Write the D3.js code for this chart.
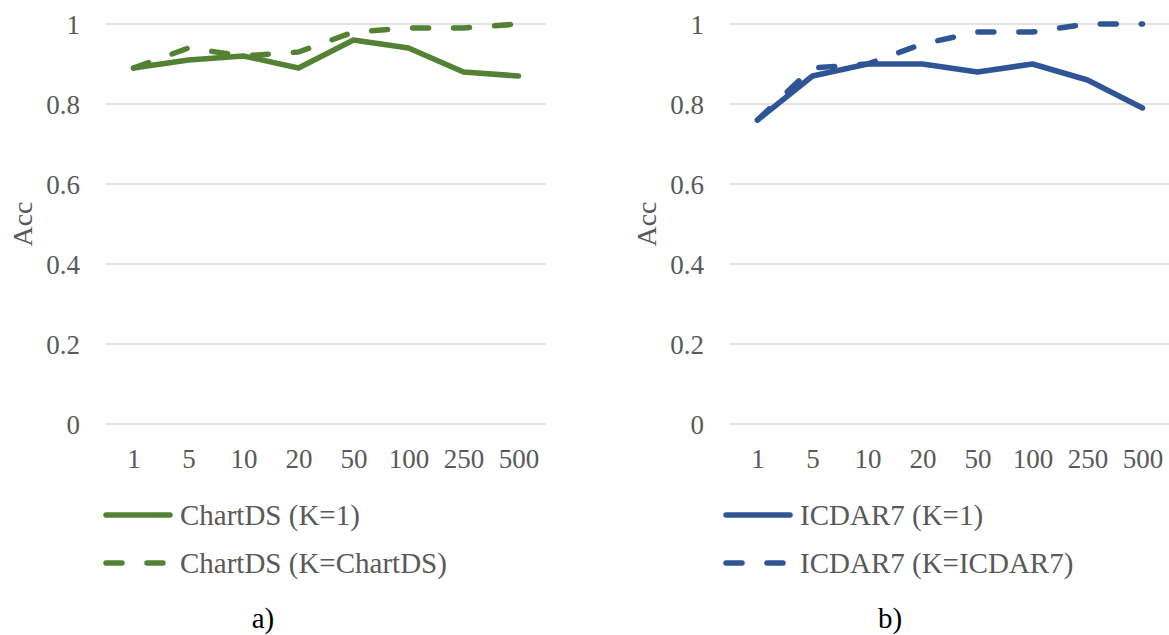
<!DOCTYPE html>
<html>
<head>
<meta charset="utf-8">
<script src="https://cdn.jsdelivr.net/npm/d3@7"></script>
<style>
  body { margin: 0; background: #fff; }
</style>
</head>
<body>
<svg id="chart" width="1169" height="635"></svg>
<script>
// values
const categories = ['1', '5', '10', '20', '50', '100', '250', '500'];
const yTicks = [0, 0.2, 0.4, 0.6, 0.8, 1];

const chartdsK1 = [0.89, 0.91, 0.92, 0.89, 0.96, 0.94, 0.88, 0.87];
const chartdsKAll = [0.89, 0.94, 0.92, 0.93, 0.98, 0.99, 0.99, 1.0];
const icdarK1 = [0.76, 0.87, 0.90, 0.90, 0.88, 0.90, 0.86, 0.79];
const icdarKAll = [0.76, 0.89, 0.90, 0.95, 0.98, 0.98, 1.0, 1.0];

const FONT = '"Liberation Serif"';

const panels = [
  { left: 106, right: 546, axisX: 80, titleX: 22, legX: 103, caption: 'a)', capX: 263, color: '#548235',
    series: [{ name: 'ChartDS (K=1)', values: chartdsK1, dash: null },
             { name: 'ChartDS (K=ChartDS)', values: chartdsKAll, dash: '16,25' }] },
  { left: 730, right: 1170, axisX: 704, titleX: 646, legX: 723, caption: 'b)', capX: 890, color: '#2F5597',
    series: [{ name: 'ICDAR7 (K=1)', values: icdarK1, dash: null },
             { name: 'ICDAR7 (K=ICDAR7)', values: icdarKAll, dash: '16,25' }] }
];

var svg = d3.select('#chart');
var y = d3.scaleLinear().domain([0, 1]).range([424, 24]);

panels.forEach(function(p) {
  var g = svg.append('g');
  var x = d3.scalePoint().domain(categories).range([p.left, p.right]).padding(0.5);

  // gridlines
  g.selectAll('.grid').data(yTicks).enter().append('line')
    .attr('x1', p.left).attr('x2', p.right)
    .attr('y1', d => y(d)).attr('y2', d => y(d))
    .attr('stroke', '#d9d9d9').attr('stroke-width', 1.5);

  // y axis labels
  var yAxis = d3.axisLeft(y).tickValues(yTicks).tickSize(0).tickPadding(0)
    .tickFormat(d => d3.format('~g')(d));
  var ya = g.append('g').attr('transform', `translate(${p.axisX},0)`).call(yAxis)
    .attr('font-family', FONT).attr('font-size', 27);
  ya.select('.domain').remove();
  ya.selectAll('text').attr('fill', '#595959').attr('font-family', FONT)
    .attr('font-size', 27).attr('dy', '0.35em');

  // x axis labels
  var xAxis = d3.axisBottom(x).tickSize(0).tickPadding(0);
  var xa = g.append('g').attr('transform', 'translate(0,468)').call(xAxis)
    .attr('font-family', FONT).attr('font-size', 27);
  xa.select('.domain').remove();
  xa.selectAll('text').attr('fill', '#595959').attr('font-family', FONT)
    .attr('font-size', 27).attr('dy', 0).attr('y', 0);

  g.append('text')
    .attr('transform', `translate(${p.titleX},224) rotate(-90)`)
    .attr('text-anchor', 'middle').attr('dy', '0.35em')
    .attr('fill', '#595959').attr('font-family', FONT).attr('font-size', 28).text('Acc');

  var line = d3.line().x((d, i) => x(categories[i])).y(d => y(d));

  p.series.forEach(function(s, k) {
    g.append('path').datum(s.values)
      .attr('d', line).attr('fill', 'none')
      .attr('stroke', p.color).attr('stroke-width', 5.5)
      .attr('stroke-linejoin', 'round').attr('stroke-linecap', 'round')
      .attr('stroke-dasharray', s.dash);

    var ly = 515 + k * 48;
    g.append('line')
      .attr('x1', p.legX + 3).attr('x2', p.legX + 67)
      .attr('y1', ly).attr('y2', ly)
      .attr('stroke', p.color).attr('stroke-width', 5.5)
      .attr('stroke-linecap', 'round')
      .attr('stroke-dasharray', s.dash);
    g.append('text')
      .attr('x', p.legX + 77).attr('y', ly).attr('dy', '0.35em')
      .attr('fill', '#595959').attr('font-family', FONT).attr('font-size', 29).text(s.name);
  });

  g.append('text')
    .attr('x', p.capX).attr('y', 628).attr('text-anchor', 'middle')
    .attr('fill', '#000').attr('font-family', FONT).attr('font-size', 29).text(p.caption);
});
</script>
</body>
</html>
